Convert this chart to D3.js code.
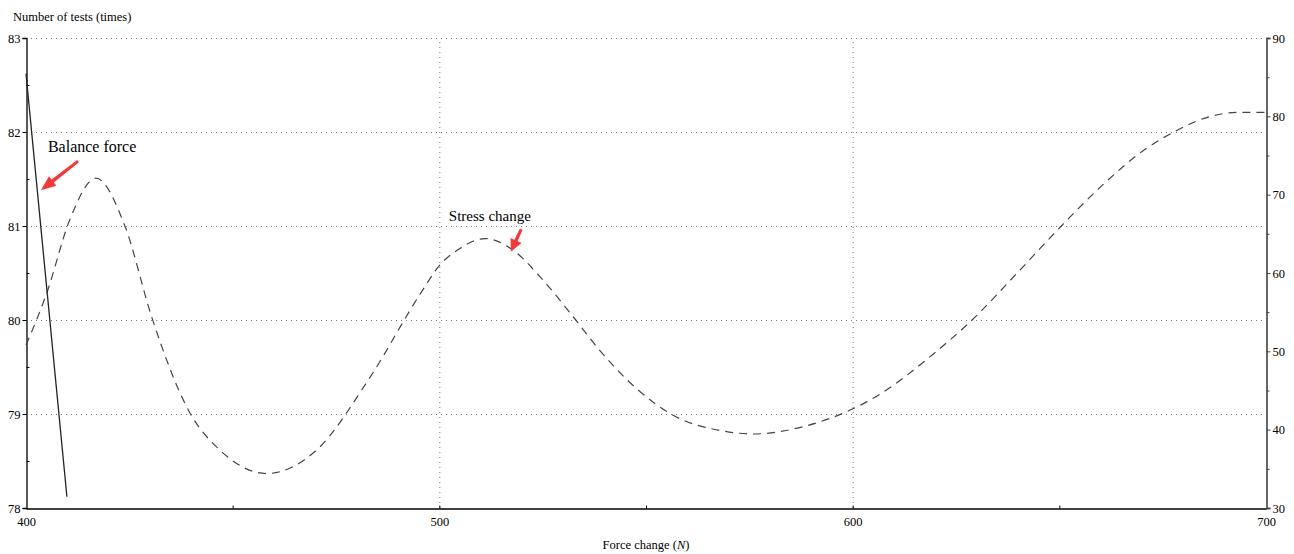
<!DOCTYPE html>
<html lang="en">
<head>
<meta charset="UTF-8">
<title>Force change</title>
<script src="https://cdn.jsdelivr.net/npm/d3@7"></script>
<style>
  body { margin: 0; background: #fff; }
  text { font-family: "Liberation Serif", "Times New Roman", serif; }
</style>
</head>
<body>
<script>
// stress change curve (right axis)
const forceX = [400, 405, 410.6, 416.9, 424, 430.4, 439.7, 446.9, 458.2, 470.3, 483, 495.7, 500.1, 504.9, 511,
  517.9, 524.4, 532.1, 539, 547.8, 556.7, 567.9, 576, 588.1, 600.2, 606.8, 619.6, 628.9, 639.8, 650.3, 660.8,
  670.5, 677.7, 686.6, 693.1, 700];
const stressVals = [50.8, 57.4, 66.8, 72.1, 65.9, 54.4, 42.1, 37.4, 34.4, 37.4, 46.5, 57.6, 61, 63.1, 64.4,
  62.9, 59.5, 54.6, 50.0, 45.2, 41.8, 39.9, 39.45, 40.4, 42.7, 44.6, 49.7, 54, 60, 65.9, 71.4,
  75.7, 78, 80, 80.5, 80.5];
// balance force line (left axis)
const balanceX = [400, 409.9];
const balanceVals = [82.62, 78.12];

const xTicks = [400, 500, 600, 700];
const leftTicks = [78, 79, 80, 81, 82, 83];
const rightTicks = [30, 40, 50, 60, 70, 80, 90];

const width = 1294, height = 554;
const margin = {top: 38, right: 28, bottom: 46, left: 26};

const x = d3.scaleLinear().domain([400, 700]).range([margin.left, width - margin.right]);
const yL = d3.scaleLinear().domain([78, 83]).range([height - margin.bottom, margin.top]);
const yR = d3.scaleLinear().domain([30, 90]).range([height - margin.bottom, margin.top]);

const svg = d3.select("body").append("svg")
  .attr("width", width).attr("height", height);

// grid
const grid = svg.append("g").attr("stroke", "#777").attr("stroke-dasharray", "1,4").attr("stroke-width", 1);
grid.selectAll("line.h").data([79, 80, 81, 82, 83]).join("line")
  .attr("x1", x(400)).attr("x2", x(700))
  .attr("y1", d => yL(d) + 0.5).attr("y2", d => yL(d) + 0.5);
grid.selectAll("line.v").data([500, 600]).join("line")
  .attr("x1", d => x(d) + 0.5).attr("x2", d => x(d) + 0.5)
  .attr("y1", yL(78)).attr("y2", yL(83));

// left axis
svg.append("g")
  .attr("transform", `translate(${margin.left + 0.5},0)`)
  .call(d3.axisLeft(yL).tickValues(leftTicks).tickSize(4).tickPadding(2).tickFormat(d3.format("d")))
  .call(g => g.select(".domain").attr("stroke", "#000").attr("stroke-width", 1.3))
  .call(g => g.selectAll("text").attr("font-size", 12.5).attr("fill", "#000"));
svg.append("g")
  .attr("transform", `translate(${margin.left + 0.5},0)`)
  .call(d3.axisRight(yL).tickValues(d3.range(78.5, 83, 1)).tickSize(3).tickFormat(""))
  .call(g => g.select(".domain").remove());

// right axis
svg.append("g")
  .attr("transform", `translate(${width - margin.right + 0.5},0)`)
  .call(d3.axisRight(yR).tickValues(rightTicks).tickSize(4).tickPadding(2).tickFormat(d3.format("d")))
  .call(g => g.select(".domain").attr("stroke", "#666").attr("stroke-width", 2))
  .call(g => g.selectAll(".tick line").attr("stroke", "#444"))
  .call(g => g.selectAll("text").attr("font-size", 12.5).attr("fill", "#000"));
svg.append("g")
  .attr("transform", `translate(${width - margin.right + 0.5},0)`)
  .call(d3.axisRight(yR).tickValues(d3.range(35, 90, 10)).tickSize(3).tickFormat(""))
  .call(g => g.select(".domain").remove())
  .call(g => g.selectAll(".tick line").attr("stroke", "#444"));

// bottom axis
svg.append("g")
  .attr("transform", `translate(0,${height - margin.bottom + 0.5})`)
  .call(d3.axisBottom(x).tickValues(xTicks).tickSize(0).tickPadding(9).tickFormat(d3.format("d")))
  .call(g => g.select(".domain").attr("stroke", "#000").attr("stroke-width", 1.3))
  .call(g => g.selectAll("text").attr("font-size", 12.5).attr("fill", "#000"));
svg.append("g")
  .attr("transform", `translate(0,${height - margin.bottom + 0.5})`)
  .call(d3.axisTop(x).tickValues(d3.range(450, 700, 50)).tickSize(3).tickFormat(""))
  .call(g => g.select(".domain").remove());

// axis titles
svg.append("text").attr("x", 13).attr("y", 21).attr("font-size", 12.5).text("Number of tests (times)");
const xt = svg.append("text").attr("x", (x(400) + x(700)) / 2).attr("y", 549)
  .attr("text-anchor", "middle").attr("font-size", 12.5);
xt.append("tspan").text("Force change (");
xt.append("tspan").attr("font-style", "italic").text("N");
xt.append("tspan").text(")");

// series
svg.append("path")
  .datum(forceX.map((d, i) => [d, stressVals[i]]))
  .attr("fill", "none").attr("stroke", "#444").attr("stroke-width", 1.2)
  .attr("stroke-dasharray", "8,6")
  .attr("d", d3.line().x(d => x(d[0])).y(d => yR(d[1])).curve(d3.curveMonotoneX));

svg.append("path")
  .datum(balanceX.map((d, i) => [d, balanceVals[i]]))
  .attr("fill", "none").attr("stroke", "#222").attr("stroke-width", 1.3)
  .attr("d", d3.line().x(d => x(d[0])).y(d => yL(d[1])));

// annotations
function arrow(x0, y0, x1, y1) {
  const ang = Math.atan2(y1 - y0, x1 - x0);
  const len = Math.hypot(x1 - x0, y1 - y0);
  const head = Math.min(15, len * 0.5), hw = 6, sw = 1.4;
  const pts = [[0, -sw], [len - head, -sw * 1.3], [len - head, -hw], [len, 0], [len - head, hw], [len - head, sw * 1.3], [0, sw]];
  svg.append("polygon")
    .attr("points", pts.map(p => p.join(",")).join(" "))
    .attr("fill", "#f23a3a")
    .attr("transform", `translate(${x0},${y0}) rotate(${ang * 180 / Math.PI})`);
}
svg.append("text").attr("x", x(405.3)).attr("y", yL(81.79)).attr("font-size", 16).text("Balance force");
arrow(x(412.6), yL(81.69), x(403.6), yL(81.38));
svg.append("text").attr("x", x(502.3)).attr("y", yR(66.6)).attr("font-size", 15).text("Stress change");
arrow(x(519.8), yR(65.6), x(517.3), yR(62.7));
</script>
</body>
</html>
